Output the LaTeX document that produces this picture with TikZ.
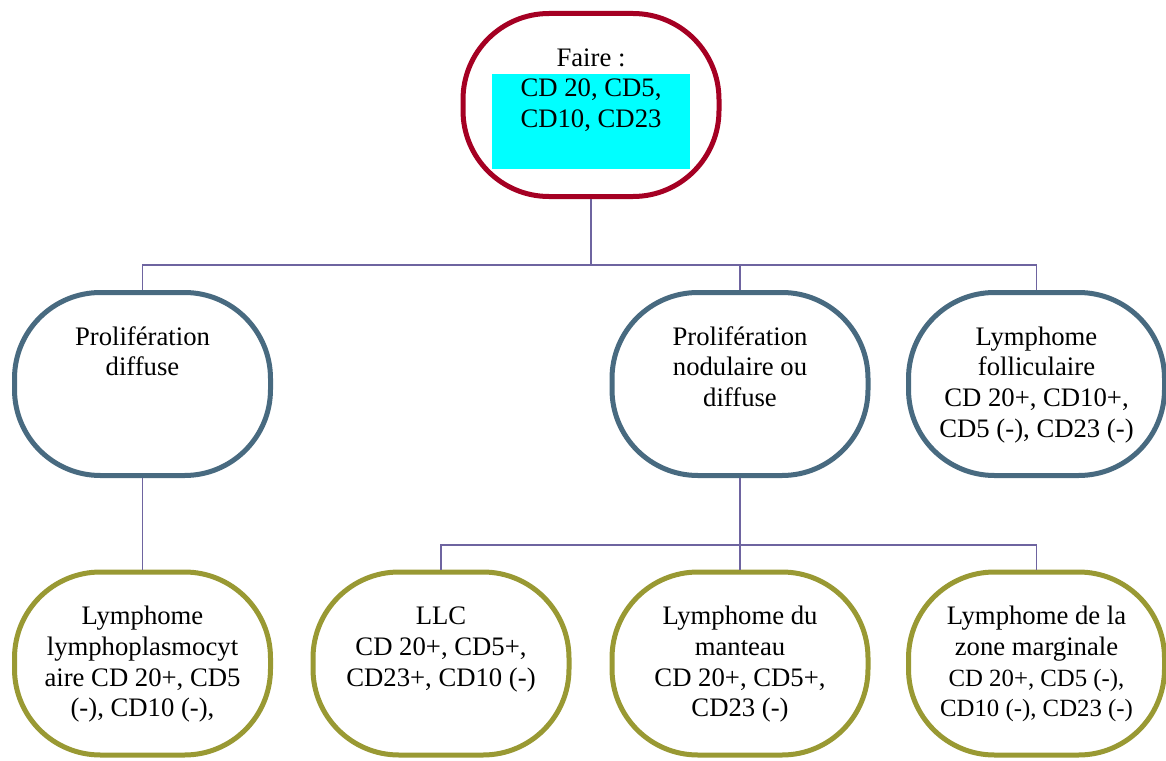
\documentclass[tikz,border=0pt]{standalone}
\usepackage{fontspec}
\setmainfont{Liberation Serif}
\definecolor{topred}{RGB}{165,0,35}
\definecolor{lvtwo}{RGB}{72,106,128}
\definecolor{lvthree}{RGB}{153,153,51}
\definecolor{conn}{RGB}{110,100,160}
\definecolor{hilite}{RGB}{0,255,255}
\newcommand{\smallcd}{\fontsize{24.8}{30.7}\selectfont}
\tikzset{
  box/.style={draw, line width=5pt, rectangle, rounded corners=86pt,
    minimum width=256pt, minimum height=183pt, inner sep=0pt, fill=white},
  topbox/.style={box, draw=topred},
  twobox/.style={box, draw=lvtwo},
  threebox/.style={box, draw=lvthree},
  txt/.style={align=center, inner sep=0pt, anchor=north,
    font={\fontsize{26.7}{30.7}\selectfont}},
  link/.style={draw=conn, line width=1.6pt}
}
\begin{document}
\begin{tikzpicture}[x=1pt,y=-1pt]
\useasboundingbox[fill=white] (0,0) rectangle (1166,760);
% boxes
\node[topbox] (top) at (591,105) {};
\node[twobox] (b1) at (142.5,384) {};
\node[twobox] (b2) at (740,384) {};
\node[twobox] (b3) at (1036.5,384) {};
\node[threebox] (c1) at (142.5,663.5) {};
\node[threebox] (c2) at (441,663.5) {};
\node[threebox] (c3) at (740,663.5) {};
\node[threebox] (c4) at (1036.5,663.5) {};
% highlight
\fill[hilite] (492,74) rectangle (690,169);
% texts
\node[txt] (t0) at ([yshift=-33.5pt]top.north) {\strut Faire :\\CD 20, CD5,\\CD10, CD23};
\node[txt] (t1) at ([yshift=-33.5pt]b1.north) {\strut Prolifération\\diffuse};
\node[txt] (t2) at ([yshift=-33.5pt]b2.north) {\strut Prolifération\\nodulaire ou\\diffuse};
\node[txt] (t3) at ([yshift=-33.5pt]b3.north) {\strut Lymphome\\folliculaire\\CD 20+, CD10+,\\CD5 (-), CD23 (-)};
\node[txt] (u1) at ([yshift=-33.5pt]c1.north) {\strut Lymphome\\lymphoplasmocyt\\aire CD 20+, CD5\\(-), CD10 (-),};
\node[txt] (u2) at ([yshift=-33.5pt]c2.north) {\strut LLC\\CD 20+, CD5+,\\CD23+, CD10 (-)};
\node[txt] (u3) at ([yshift=-33.5pt]c3.north) {\strut Lymphome du\\manteau\\CD 20+, CD5+,\\CD23 (-)};
\node[txt] (u4) at ([yshift=-33.5pt]c4.north) {\strut Lymphome de la\\zone marginale\\\smallcd CD 20+, CD5 (-),\\\smallcd CD10 (-), CD23 (-)};
% connectors
\coordinate (h1) at (0,265);
\coordinate (h2) at (0,545);
\draw[link] (top.south) -- (top.south |- h1);
\draw[link] (b1.north) |- (h1 -| b3.north) -- (b3.north);
\draw[link] (b2.north) -- (b2.north |- h1);
\draw[link] (b1.south) -- (c1.north);
\draw[link] (b2.south) -- (b2.south |- h2);
\draw[link] (c2.north) |- (h2 -| c4.north) -- (c4.north);
\draw[link] (c3.north) -- (c3.north |- h2);
\end{tikzpicture}
\end{document}
